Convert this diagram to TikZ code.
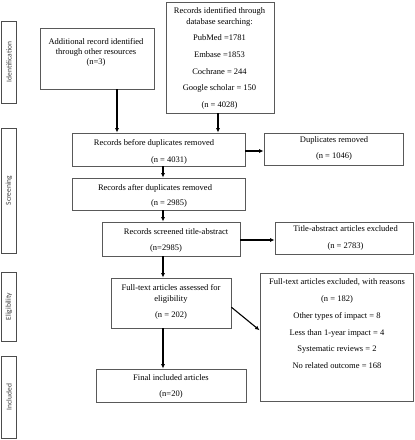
\documentclass[tikz,border=0pt]{standalone}
\usepackage{fontspec}
\setmainfont{Liberation Serif}
\newfontfamily\sidefont{Carlito}
\usetikzlibrary{arrows.meta}
\begin{document}
\begin{tikzpicture}[x=1pt,y=-1pt,
  box/.style={draw=black!65, line width=0.8pt, inner sep=0pt, fill=white},
  side/.style={draw=black!70, line width=0.9pt, inner sep=0pt},
  sidetxt/.style={font=\sidefont\fontsize{7.5}{9}\selectfont, text=black!75, rotate=90, inner sep=0pt},
  txt/.style={font=\fontsize{8.5}{11}\selectfont, align=center, inner sep=0pt, anchor=north},
  arr/.style={-{Latex[length=4.5pt,width=4pt]}, line width=1.1pt, black}]
\useasboundingbox (0,0) rectangle (415,440);
% side labels
\node[side, minimum width=14.5pt, minimum height=82pt] (sid) at (9,62) {};
\node[sidetxt] (sidt) at (sid.center) {Identification};
\node[side, minimum width=14.5pt, minimum height=125pt] (sscr) at (9,190.5) {};
\node[sidetxt] (sscrt) at (sscr.center) {Screening};
\node[side, minimum width=14.5pt, minimum height=69pt] (seli) at (9,306.5) {};
\node[sidetxt] (selit) at (seli.center) {Eligibility};
\node[side, minimum width=14.5pt, minimum height=82pt] (sinc) at (9,397) {};
\node[sidetxt] (sinct) at (sinc.center) {Included};
% boxes
\node[box, minimum width=114pt, minimum height=61pt] (add) at (97,58.5) {};
\node[txt, font=\fontsize{8.5}{10}\selectfont] (addt) at (96,38.5) {Additional record identified\\through other resources\\(n=3)};
\node[box, minimum width=108pt, minimum height=111pt] (db) at (220,57.5) {};
\node[txt] (dbt) at (219.5,7.5) {Records identified through\\database searching:\\[4.5pt]PubMed =1781\\[6pt]Embase =1853\\[6pt]Cochrane = 244\\[5.5pt]Google scholar = 150\\[6pt](n = 4028)};
\node[box, minimum width=173pt, minimum height=33pt] (before) at (158.5,149.5) {};
\node[txt] (beforet) at (154,139.5) {Records before duplicates removed\\[6pt]\hspace*{30pt}(n = 4031)};
\node[box, minimum width=139pt, minimum height=32pt] (dup) at (333.5,149) {};
\node[txt] (dupt) at (334,136.5) {Duplicates removed\\[5pt](n = 1046)};
\node[box, minimum width=173pt, minimum height=32pt] (after) at (158.5,194) {};
\node[txt] (aftert) at (155,184.5) {Records after duplicates removed\\[4pt]\hspace*{28pt}(n = 2985)};
\node[box, minimum width=138pt, minimum height=34pt] (scr) at (171,239) {};
\node[txt] (scrt) at (176,228.5) {Records screened title-abstract\\[5pt](n=2985)\hspace*{20pt}\null};
\node[box, minimum width=138pt, minimum height=32pt] (taexc) at (344,238) {};
\node[txt] (taexct) at (345.5,225.5) {Title-abstract articles excluded\\[6pt](n = 2783)};
\node[box, minimum width=120pt, minimum height=50pt] (full) at (171,303) {};
\node[txt] (fullt) at (171,284.5) {Full-text articles assessed for\\eligibility\\[5pt](n = 202)};
\node[box, minimum width=153pt, minimum height=128pt] (ftexc) at (336.5,337) {};
\node[txt, font=\fontsize{8.5}{16.8}\selectfont] (ftexct) at (337,278.5) {Full-text articles excluded, with reasons\\(n = 182)\\Other types of impact = 8\\Less than 1-year impact = 4\\Systematic reviews = 2\\No related outcome = 168};
\node[box, minimum width=150pt, minimum height=33pt] (final) at (171,385.5) {};
\node[txt] (finalt) at (171,374.5) {Final included articles\\[5pt](n=20)};
% arrow columns
\coordinate (c1) at (117,0);
\coordinate (c2) at (218,0);
\coordinate (c3) at (163,0);
% arrows
\draw[arr] (add.south -| c1) -- (before.north -| c1);
\draw[arr] (db.south -| c2) -- (before.north -| c2);
\draw[arr] ([yshift=-1.5pt]before.east) -- ([yshift=-1.5pt]before.east -| dup.west);
\draw[arr] (before.south -| c3) -- (after.north -| c3);
\draw[arr] (after.south -| c3) -- (scr.north -| c3);
\draw[arr] (scr.south -| c3) -- (full.north -| c3);
\draw[arr] ([yshift=-1pt]scr.east) -- ([yshift=-1pt]scr.east -| taexc.west);
\draw[arr] (full.-4) -- (ftexc.175);
\draw[arr] (full.south -| c3) -- (final.north -| c3);
\end{tikzpicture}
\end{document}
